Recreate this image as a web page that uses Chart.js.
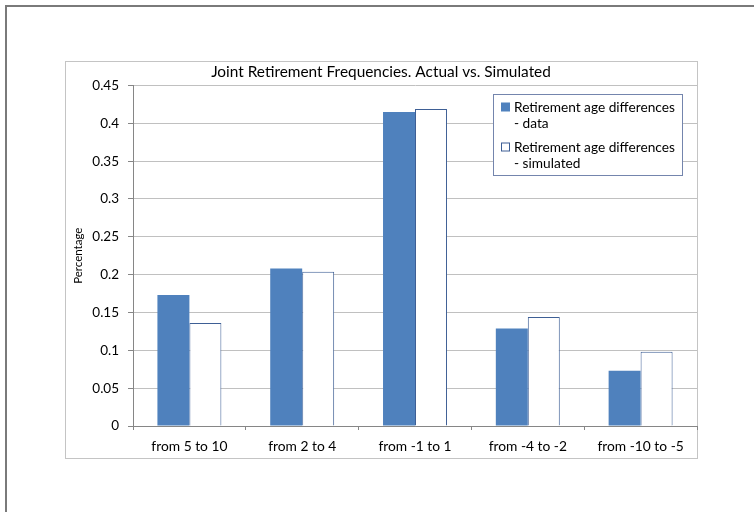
<!DOCTYPE html>
<html>
<head>
<meta charset="utf-8">
<script src="https://cdn.jsdelivr.net/npm/chart.js@4"></script>
<style>
  html, body { margin: 0; padding: 0; background: #fff; }
  body { width: 754px; height: 512px; position: relative; overflow: hidden; }
  #frame { position: absolute; left: 5px; top: 5px; width: 760px; height: 520px;
           border-left: 2px solid #7a7a7a; border-top: 2px solid #7a7a7a; }
  #c { position: absolute; left: 0; top: 0; }
</style>
</head>
<body>
<div id="frame"></div>
<canvas id="c" width="754" height="512"></canvas>
<script>
// Age-difference buckets (husband minus wife retirement age)
const categories = ['from 5 to 10', 'from 2 to 4', 'from -1 to 1', 'from -4 to -2', 'from -10 to -5'];
// Observed share of couples in each bucket
const dataValues = [0.173, 0.208, 0.415, 0.129, 0.073];
// Model-simulated share of couples in each bucket
const simulatedValues = [0.136, 0.204, 0.419, 0.144, 0.098];
const seriesNames = ['Retirement age differences - data', 'Retirement age differences - simulated'];
const yTickLabels = ['0', '0.05', '0.1', '0.15', '0.2', '0.25', '0.3', '0.35', '0.4', '0.45'];
const chartTitle = 'Joint Retirement Frequencies. Actual vs. Simulated';
const yAxisTitle = 'Percentage';

const FONT = 'Lato, "Open Sans", sans-serif';
const AXIS_GRAY = '#868686';
const GRID_GRAY = '#c0c0c0';

// Light border around the whole chart object
const chartBox = {
  id: 'chartBox',
  beforeDraw(chart) {
    const ctx = chart.ctx;
    ctx.save();
    ctx.strokeStyle = '#c4c4c4';
    ctx.lineWidth = 1;
    ctx.strokeRect(65.5, 61.5, 632, 397);
    ctx.restore();
  }
};

// Boxed legend in the upper right, each entry wrapped over two lines
const boxedLegend = {
  id: 'boxedLegend',
  afterDraw(chart) {
    const ctx = chart.ctx;
    const x = 493.5, y = 94.5, w = 189, h = 81;
    ctx.save();
    ctx.fillStyle = '#fff';
    ctx.fillRect(x, y, w, h);
    ctx.strokeStyle = '#7485ad';
    ctx.lineWidth = 1;
    ctx.strokeRect(x, y, w, h);
    ctx.font = '13.7px ' + FONT;
    ctx.fillStyle = '#000';
    ctx.textBaseline = 'middle';
    ctx.textAlign = 'left';
    chart.data.datasets.forEach((ds, i) => {
      const top = y + 13 + i * 40;
      const parts = ds.label.split(' - ');
      // marker
      if (ds.borderWidth > 0) {
        ctx.fillStyle = ds.backgroundColor;
        ctx.fillRect(501.5, top - 4.5, 8, 8);
        ctx.strokeStyle = ds.borderColor;
        ctx.strokeRect(501.5, top - 4.5, 8, 8);
      } else {
        ctx.fillStyle = ds.backgroundColor;
        ctx.fillRect(501, top - 5, 9, 9);
      }
      ctx.fillStyle = '#000';
      ctx.fillText(parts[0], 514, top);
      ctx.fillText('- ' + parts[1], 514, top + 16);
    });
    ctx.restore();
  }
};

new Chart(document.getElementById('c'), {
  type: 'bar',
  data: {
    labels: categories,
    datasets: [
      {
        label: seriesNames[0],
        data: dataValues,
        backgroundColor: '#4f81bd',
        borderWidth: 0
      },
      {
        label: seriesNames[1],
        data: simulatedValues,
        backgroundColor: '#ffffff',
        borderColor: '#3e5f95',
        borderWidth: 1
      }
    ]
  },
  options: {
    responsive: false,
    devicePixelRatio: 1,
    animation: false,
    categoryPercentage: 0.567,
    barPercentage: 1,
    layout: { padding: { left: 65, right: 57, top: 63, bottom: 53 } },
    plugins: {
      legend: { display: false },
      tooltip: { enabled: false },
      title: {
        display: true,
        text: chartTitle,
        color: '#000',
        font: { family: FONT, size: 15.4, weight: 'normal' },
        padding: { top: 0, bottom: 4 }
      }
    },
    scales: {
      x: {
        grid: {
          display: true,
          drawOnChartArea: false,
          drawTicks: true,
          tickLength: 4,
          color: AXIS_GRAY,
          offset: true
        },
        border: { color: AXIS_GRAY },
        ticks: {
          color: '#000',
          font: { family: FONT, size: 13.8 },
          padding: 8,
          maxRotation: 0
        },
        afterFit(scale) { scale.height = 33; }
      },
      y: {
        min: 0,
        max: 0.45,
        ticks: {
          stepSize: 0.05,
          color: '#000',
          font: { family: FONT, size: 13.5 },
          padding: 9,
          callback: (v, i) => yTickLabels[i]
        },
        grid: {
          color: (c) => (c.tick && c.tick.value === 0 ? AXIS_GRAY : GRID_GRAY),
          tickColor: AXIS_GRAY,
          tickLength: 5
        },
        border: { color: AXIS_GRAY },
        title: {
          display: true,
          text: yAxisTitle,
          color: '#000',
          font: { family: FONT, size: 11.5 },
          padding: { top: 6, bottom: 0 }
        },
        afterFit(scale) { scale.width = 68; }
      }
    }
  },
  plugins: [chartBox, boxedLegend]
});
</script>
</body>
</html>
